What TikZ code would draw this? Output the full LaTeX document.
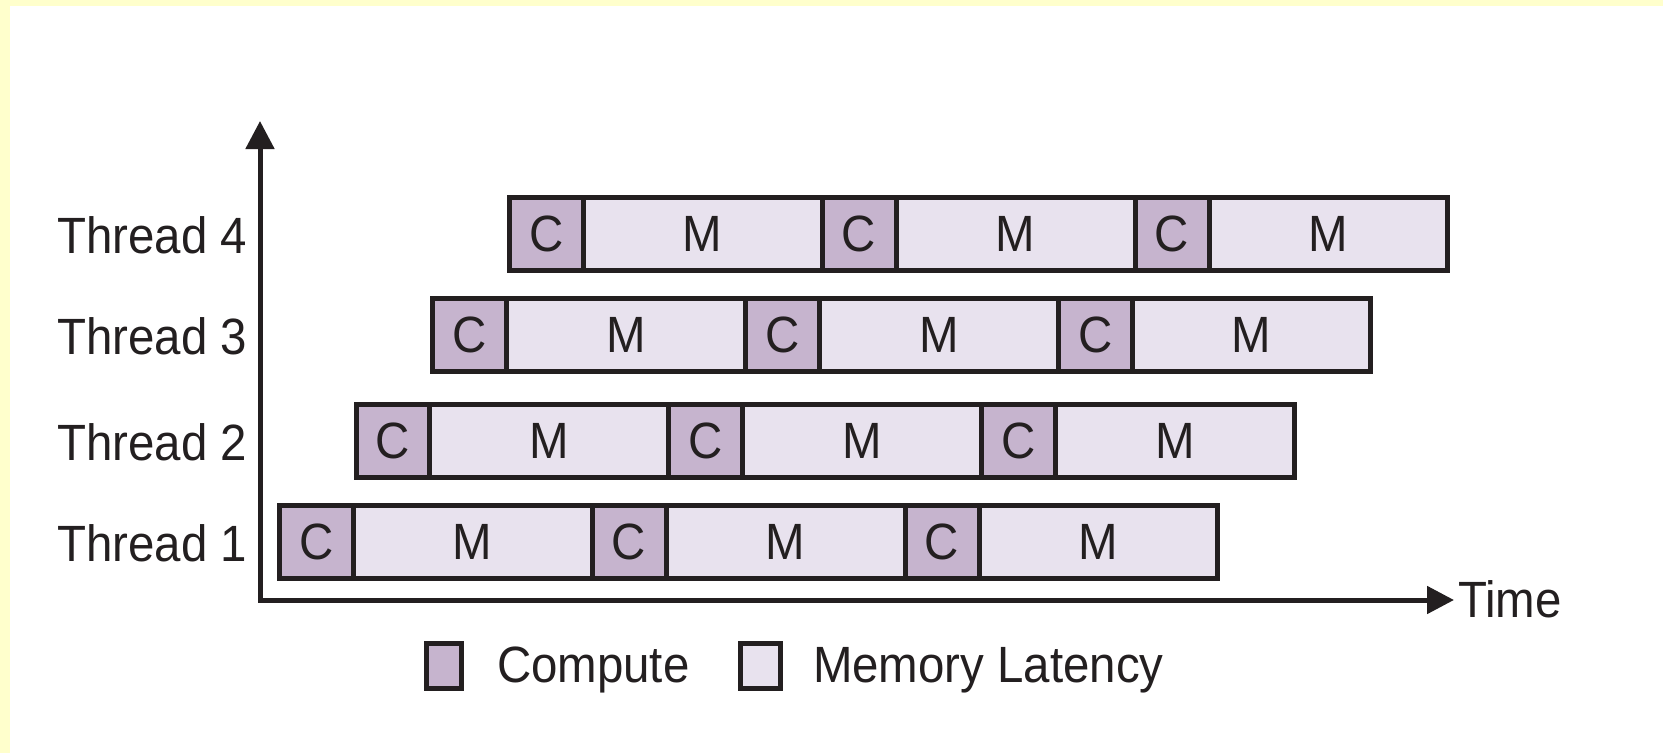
\documentclass[tikz,border=0pt]{standalone}
\usepackage{fontspec}
\setmainfont{Liberation Sans}[FakeStretch=0.93]
\usetikzlibrary{arrows.meta}
\definecolor{ink}{HTML}{231F20}
\definecolor{computefill}{HTML}{C6B4CE}
\definecolor{memfill}{HTML}{E8E2EE}
\definecolor{frame}{HTML}{FFFFCC}

\begin{document}
\begin{tikzpicture}[x=1pt,y=-1pt,
  seg/.style={draw=ink, line width=5pt, rectangle, inner sep=0pt, outer sep=0pt,
    minimum height=73pt, anchor=west, text=ink,
    font=\fontsize{51}{60}\selectfont, text height=36pt, text depth=0pt},
  cseg/.style={seg, fill=computefill},
  mseg/.style={seg, fill=memfill},
  lbl/.style={text=ink, font=\fontsize{51}{60}\selectfont, inner sep=0pt, outer sep=0pt},
  keybox/.style={draw=ink, line width=5pt, rectangle, inner sep=0pt, outer sep=0pt,
    minimum height=45pt}
]
% page, with the pale yellow strips along the top and left edges
\useasboundingbox (0,0) rectangle (1663,753);
\fill[white] (0,0) rectangle (1663,753);
\fill[frame] (0,0) rectangle (1663,6);
\fill[frame] (0,0) rectangle (10,753);

% one row of compute / memory-latency phases per thread, each shifted by one compute slot
\foreach \k/\yc in {1/541.5, 2/440.5, 3/334.5, 4/233.5} {
  \pgfmathsetmacro{\s}{76.67*(\k-1)}
  \node[cseg, minimum width=73.5pt] (t\k c1) at (279.5+\s, \yc) {C};
  \node[mseg, minimum width=239pt]  (t\k m1) at (t\k c1.east) {M};
  \node[cseg, minimum width=74pt]   (t\k c2) at (t\k m1.east) {C};
  \node[mseg, minimum width=239pt]  (t\k m2) at (t\k c2.east) {M};
  \node[cseg, minimum width=74pt]   (t\k c3) at (t\k m2.east) {C};
  \node[mseg, minimum width=238.5pt](t\k m3) at (t\k c3.east) {M};
  \node[lbl, anchor=base east] (th\k) at (247, \yc+20) {Thread \k};
}

% axes
\coordinate (origin) at (260,600);
\coordinate (ytip) at (260,121);
\coordinate (xtip) at (1454,600);
\draw[ink, line width=5pt, line join=miter,
  {Triangle[length=28pt,width=28pt]}-{Triangle[length=27pt,width=27pt]}]
  (ytip) -- (origin) -- (xtip);
\node[lbl, anchor=base west] (time) at (1458,617) {Time};

% legend
\node[keybox, fill=computefill, minimum width=35pt] (keyc) at (444,666) {};
\node[lbl, anchor=base west] (keyctext) at (497,682) {Compute};
\node[keybox, fill=memfill, minimum width=40pt] (keym) at (760.5,666) {};
\node[lbl, anchor=base west] (keymtext) at (813,682) {Memory Latency};
\end{tikzpicture}
\end{document}
